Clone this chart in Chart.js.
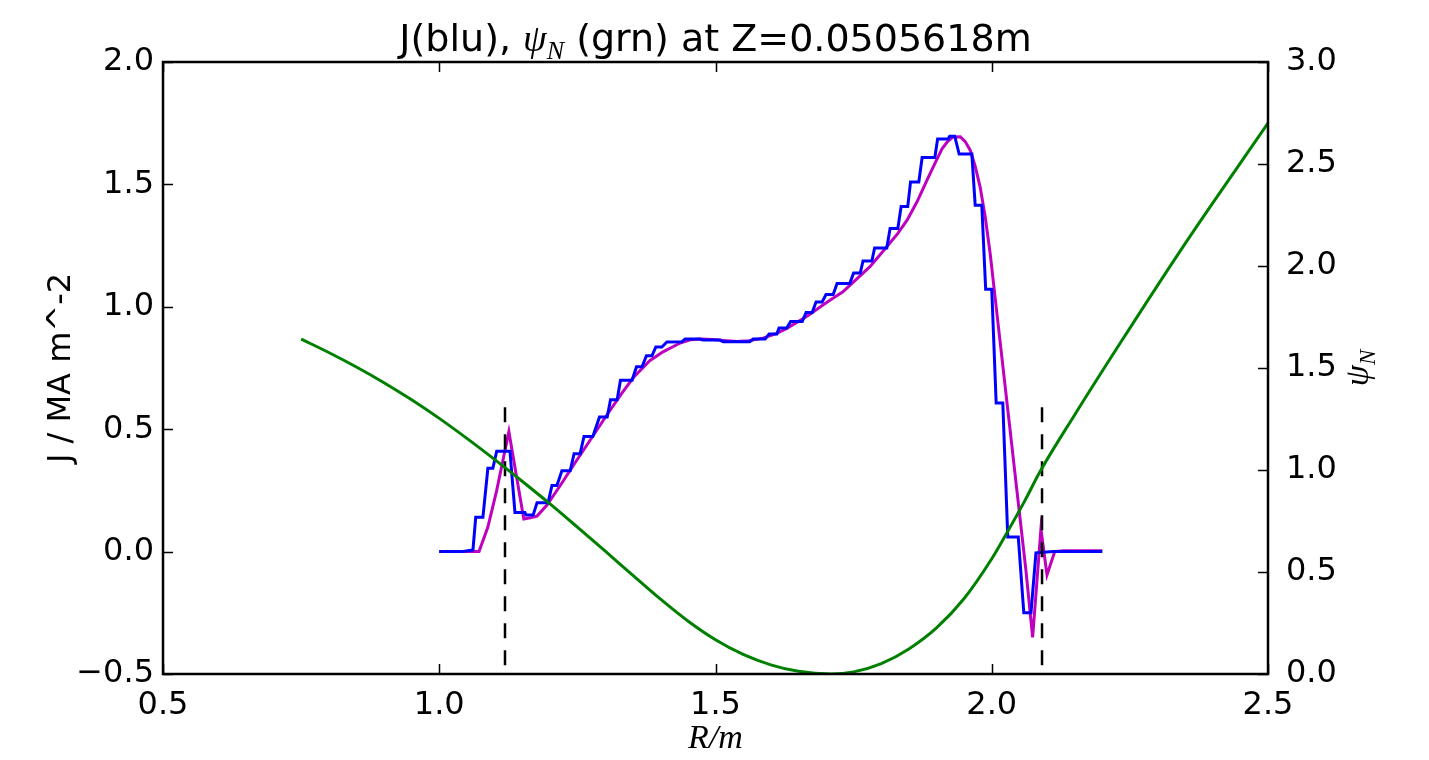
<!DOCTYPE html>
<html>
<head>
<meta charset="utf-8">
<title>J and psi_N profile</title>
<script src="https://cdn.jsdelivr.net/npm/chart.js@4/dist/chart.umd.min.js"></script>
<style>
  html, body { margin: 0; padding: 0; background: #fff; }
  #wrap { width: 1429px; height: 760px; }
</style>
</head>
<body>
<div id="wrap"><canvas id="myChart" width="1429" height="760"></canvas></div>
<script>
// current density J (MA m^-2) on the grid, stepped
const blueR = [1.0, 1.043, 1.061, 1.066, 1.079, 1.088, 1.097, 1.104, 1.128, 1.137, 1.155, 1.157, 1.170, 1.177, 1.197, 1.204, 1.213, 1.222, 1.237, 1.244, 1.255, 1.262, 1.278, 1.290, 1.304, 1.310, 1.322, 1.328, 1.349, 1.357, 1.367, 1.375, 1.385, 1.392, 1.403, 1.412, 1.439, 1.445, 1.472, 1.477, 1.508, 1.514, 1.562, 1.568, 1.590, 1.597, 1.611, 1.615, 1.629, 1.636, 1.657, 1.664, 1.675, 1.682, 1.693, 1.700, 1.713, 1.720, 1.743, 1.750, 1.762, 1.767, 1.783, 1.788, 1.810, 1.816, 1.830, 1.836, 1.848, 1.853, 1.868, 1.874, 1.897, 1.902, 1.921, 1.924, 1.933, 1.941, 1.964, 1.970, 1.982, 1.989, 2.000, 2.008, 2.020, 2.029, 2.048, 2.058, 2.071, 2.080, 2.111, 2.2];
const blueJ = [0, 0, 0.007, 0.14, 0.14, 0.34, 0.34, 0.41, 0.41, 0.16, 0.16, 0.15, 0.15, 0.20, 0.20, 0.27, 0.27, 0.33, 0.33, 0.40, 0.40, 0.47, 0.47, 0.55, 0.55, 0.62, 0.62, 0.70, 0.70, 0.755, 0.755, 0.80, 0.80, 0.836, 0.836, 0.856, 0.857, 0.868, 0.868, 0.864, 0.864, 0.857, 0.857, 0.868, 0.868, 0.889, 0.889, 0.913, 0.913, 0.94, 0.94, 0.977, 0.977, 1.02, 1.02, 1.05, 1.05, 1.095, 1.095, 1.138, 1.138, 1.187, 1.187, 1.24, 1.24, 1.32, 1.32, 1.41, 1.41, 1.51, 1.51, 1.61, 1.61, 1.685, 1.685, 1.697, 1.697, 1.624, 1.624, 1.415, 1.415, 1.072, 1.072, 0.607, 0.607, 0.06, 0.06, -0.25, -0.25, -0.005, 0.0, 0.0];

// smooth fit of J
const fitR = [1.0, 1.072, 1.088, 1.104, 1.115, 1.126, 1.153, 1.165, 1.177, 1.195, 1.219, 1.245, 1.273, 1.304, 1.33, 1.351, 1.381, 1.405, 1.436, 1.454, 1.475, 1.495, 1.52, 1.539, 1.56, 1.586, 1.61, 1.629, 1.65, 1.671, 1.69, 1.707, 1.73, 1.749, 1.78, 1.81, 1.83, 1.847, 1.865, 1.883, 1.897, 1.91, 1.92, 1.93, 1.943, 1.952, 1.961, 1.97, 1.979, 1.988, 1.997, 2.015, 2.033, 2.048, 2.062, 2.074, 2.089, 2.100, 2.114, 2.13, 2.2];
const fitJ = [0, 0, 0.10, 0.25, 0.37, 0.49, 0.133, 0.138, 0.145, 0.19, 0.27, 0.36, 0.455, 0.56, 0.645, 0.71, 0.78, 0.816, 0.852, 0.865, 0.868, 0.866, 0.861, 0.858, 0.861, 0.872, 0.89, 0.912, 0.94, 0.97, 1.0, 1.027, 1.06, 1.10, 1.165, 1.245, 1.30, 1.355, 1.43, 1.518, 1.585, 1.645, 1.675, 1.694, 1.695, 1.675, 1.64, 1.575, 1.489, 1.37, 1.22, 0.86, 0.50, 0.20, -0.08, -0.35, 0.092, -0.095, 0.0, 0.003, 0.003];

// normalised flux psi_N (right axis)
const psiR = [0.75, 0.80, 0.85, 0.90, 0.95, 1.00, 1.05, 1.10, 1.15, 1.20, 1.25, 1.30, 1.35, 1.40, 1.45, 1.50, 1.55, 1.60, 1.65, 1.709, 1.75, 1.80, 1.85, 1.90, 1.95, 2.0, 2.027, 2.06, 2.087, 2.15, 2.232, 2.35, 2.5];
const psiN = [1.642, 1.576, 1.505, 1.428, 1.344, 1.253, 1.155, 1.052, 0.945, 0.835, 0.720, 0.603, 0.485, 0.368, 0.260, 0.168, 0.096, 0.045, 0.013, 0, 0.0104, 0.051, 0.123, 0.226, 0.37, 0.565, 0.69, 0.85, 0.99, 1.27, 1.62, 2.11, 2.70];

// separatrix positions (dashed verticals), drawn from top down
const sepR = [1.119, 2.091];
const sepJ = [0.59, -0.5];

const xTicks = [0.5, 1.0, 1.5, 2.0, 2.5];
const jTicks = [-0.5, 0.0, 0.5, 1.0, 1.5, 2.0];
const psiTicks = [0.0, 0.5, 1.0, 1.5, 2.0, 2.5, 3.0];

const toPts = (xs, ys) => xs.map((x, i) => ({ x: x, y: ys[i] }));
const fmt = (v) => (v < 0 ? "\u2212" : "") + Math.abs(v).toFixed(1);
const fixedTicks = (list) => (scale) => { scale.ticks = list.map(v => ({ value: v })); };

const TICK_FONT = { family: "DejaVu Sans", size: 32 };
const LW = 3;

const sepSets = sepR.map(r => ({
    data: toPts([r, r], sepJ),
    yAxisID: "y",
    borderColor: "#000000",
    borderWidth: 2.5,
    borderDash: [15, 12],
    pointRadius: 0,
    tension: 0,
}));

// frame, inward ticks and the text around the plot
const decorations = {
    id: "decorations",
    afterDraw(chart) {
        const ctx = chart.ctx;
        const a = chart.chartArea;
        const sx = chart.scales.x, sy = chart.scales.y, sy1 = chart.scales.y1;
        const tl = 10;
        ctx.save();
        ctx.strokeStyle = "#000";
        ctx.lineWidth = 1.5;
        ctx.beginPath();
        xTicks.forEach(v => {
            const p = Math.round(sx.getPixelForValue(v)) + 0.5;
            ctx.moveTo(p, a.bottom); ctx.lineTo(p, a.bottom - tl);
            ctx.moveTo(p, a.top); ctx.lineTo(p, a.top + tl);
        });
        jTicks.forEach(v => {
            const p = Math.round(sy.getPixelForValue(v)) + 0.5;
            ctx.moveTo(a.left, p); ctx.lineTo(a.left + tl, p);
        });
        psiTicks.forEach(v => {
            const p = Math.round(sy1.getPixelForValue(v)) + 0.5;
            ctx.moveTo(a.right, p); ctx.lineTo(a.right - tl, p);
        });
        ctx.stroke();

        ctx.lineWidth = 2.5;
        ctx.strokeRect(a.left, a.top, a.right - a.left, a.bottom - a.top);

        ctx.fillStyle = "#000";
        const cx = (a.left + a.right) / 2;

        // title: J(blu), psi_N (grn) at Z=...
        const sans = "38px DejaVu Sans";
        const mathF = "italic 38px 'Liberation Serif'";
        const subF = "italic 26px 'Liberation Serif'";
        const parts = [
            { t: "J(blu), ", f: sans, dy: 0 },
            { t: "\u03c8", f: mathF, dy: 0 },
            { t: "N", f: subF, dy: 8 },
            { t: " (grn) at Z=0.0505618m", f: sans, dy: 0 },
        ];
        let w = 0;
        parts.forEach(p => { ctx.font = p.f; p.w = ctx.measureText(p.t).width; w += p.w; });
        let x = cx - w / 2;
        ctx.textBaseline = "alphabetic";
        ctx.textAlign = "left";
        parts.forEach(p => { ctx.font = p.f; ctx.fillText(p.t, x, 51 + p.dy); x += p.w; });

        // x label
        ctx.font = "italic 34px 'Liberation Serif'";
        ctx.textAlign = "center";
        ctx.fillText("R/m", cx, 748);

        // left label
        const cy = (a.top + a.bottom) / 2;
        ctx.save();
        ctx.translate(70, cy);
        ctx.rotate(-Math.PI / 2);
        ctx.font = "32px DejaVu Sans";
        ctx.textAlign = "center";
        ctx.fillText("J / MA m^-2", 0, 0);
        ctx.restore();

        // right label psi_N
        ctx.save();
        ctx.translate(1368, cy);
        ctx.rotate(-Math.PI / 2);
        ctx.font = "italic 34px 'Liberation Serif'";
        const pw = ctx.measureText("\u03c8").width;
        ctx.font = "italic 23px 'Liberation Serif'";
        const nw = ctx.measureText("N").width;
        ctx.textAlign = "left";
        ctx.font = "italic 34px 'Liberation Serif'";
        ctx.fillText("\u03c8", -(pw + nw) / 2, 0);
        ctx.font = "italic 23px 'Liberation Serif'";
        ctx.fillText("N", -(pw + nw) / 2 + pw, 7);
        ctx.restore();
        ctx.restore();
    }
};

const ctx = document.getElementById("myChart").getContext("2d");
const myChart = new Chart(ctx, {
    type: "line",
    data: {
        datasets: [
            {
                data: toPts(psiR, psiN),
                yAxisID: "y1",
                borderColor: "#008000",
                borderWidth: LW,
                pointRadius: 0,
                cubicInterpolationMode: "monotone",
            },
            ...sepSets,
            {
                data: toPts(blueR, blueJ),
                yAxisID: "y",
                borderColor: "#0000ff",
                borderWidth: LW,
                pointRadius: 0,
                tension: 0,
            },
            {
                data: toPts(fitR, fitJ),
                yAxisID: "y",
                borderColor: "#bf00bf",
                borderWidth: LW,
                pointRadius: 0,
                tension: 0,
            },
        ],
    },
    options: {
        responsive: false,
        animation: false,
        layout: { padding: { top: 62, left: 0, right: 0, bottom: 0 } },
        plugins: {
            legend: { display: false },
            title: { display: false },
            tooltip: { enabled: false },
        },
        scales: {
            x: {
                type: "linear",
                min: 0.5,
                max: 2.5,
                grid: { display: false },
                border: { display: false },
                afterBuildTicks: fixedTicks(xTicks),
                afterFit: (s) => { s.height = 86; },
                ticks: { color: "#000", font: TICK_FONT, padding: 4, maxRotation: 0, callback: fmt },
            },
            y: {
                type: "linear",
                position: "left",
                min: -0.5,
                max: 2.0,
                grid: { display: false },
                border: { display: false },
                afterBuildTicks: fixedTicks(jTicks),
                afterFit: (s) => { s.width = 163; },
                ticks: { color: "#000", font: TICK_FONT, padding: 1, callback: fmt },
            },
            y1: {
                type: "linear",
                position: "right",
                min: 0,
                max: 3.0,
                grid: { display: false },
                border: { display: false },
                afterBuildTicks: fixedTicks(psiTicks),
                afterFit: (s) => { s.width = 161; },
                ticks: { color: "#000", font: TICK_FONT, padding: 10, callback: fmt },
            },
        },
    },
    plugins: [decorations],
});
</script>
</body>
</html>
